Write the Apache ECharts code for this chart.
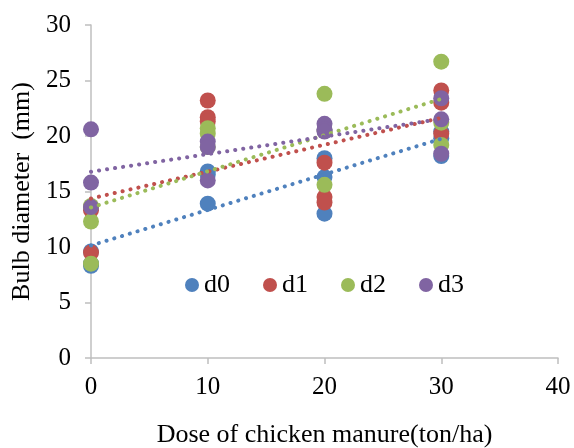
<!DOCTYPE html>
<html><head><meta charset="utf-8">
<script src="https://cdn.jsdelivr.net/npm/echarts@6/dist/echarts.min.js"></script>
<style>html,body{margin:0;padding:0;background:#fff}#c{width:574px;height:448px}</style>
</head><body><div id="c"></div>
<script>
const doses = [0, 10, 20, 30];
const seriesNames = ['d0', 'd1', 'd2', 'd3'];
const colors = ['#4f81bd', '#c0504d', '#9bbb59', '#8064a2'];
// replicate values per dose (rows follow doses)
const d0 = [[8.3, 9.6, 8.5], [16.8, 13.9, 16.5], [18.0, 16.3, 13.0], [18.2, 19.8, 20.4]];
const d1 = [[13.3, 9.5, 13.6], [23.2, 21.7, 21.3], [17.6, 14.5, 14.0], [24.1, 23.0, 20.2]];
const d2 = [[12.3, 8.5, 13.7], [20.7, 20.2, 19.0], [23.8, 15.6, 20.5], [26.7, 21.2, 19.2]];
const d3 = [[20.6, 15.8, 13.6], [19.5, 19.0, 16.0], [21.1, 20.6, 20.4], [23.4, 21.5, 18.4]];
const yTicks = [0, 5, 10, 15, 20, 25, 30];
const xTicks = [0, 10, 20, 30, 40];

const all = [d0, d1, d2, d3];
function pts(d) { const r = []; d.forEach((row, i) => row.forEach(v => r.push([doses[i], v]))); return r; }
function fit(p) {
  const n = p.length; let sx = 0, sy = 0; p.forEach(q => { sx += q[0]; sy += q[1]; });
  const mx = sx / n, my = sy / n; let sxy = 0, sxx = 0;
  p.forEach(q => { sxy += (q[0] - mx) * (q[1] - my); sxx += (q[0] - mx) ** 2; });
  const b = sxy / sxx, a = my - b * mx; return [[0, a], [30, a + 30 * b]];
}
const series = [];
all.forEach((d, i) => {
  series.push({ name: seriesNames[i], type: 'scatter', data: pts(d), symbolSize: 16,
    itemStyle: { color: colors[i], opacity: 1 }, z: 2 });
});
all.forEach((d, i) => {
  series.push({ name: seriesNames[i] + ' trend', type: 'line', data: fit(pts(d)), showSymbol: false,
    lineStyle: { color: colors[i], width: 4, type: [0.1, 8], cap: 'round' }, z: 3, silent: true });
});
const font = 'Liberation Serif';
const chart = echarts.init(document.getElementById('c'), null, { renderer: 'canvas' });
chart.setOption({
  animation: false,
  backgroundColor: '#fff',
  grid: { left: 91, right: 16, top: 25, bottom: 90, containLabel: false, outerBoundsMode: 'none' },
  legend: { data: seriesNames, left: 180, top: 267, icon: 'circle', itemWidth: 14, itemHeight: 14, itemGap: 33,
    textStyle: { fontFamily: font, fontSize: 26, color: '#000' } },
  xAxis: { type: 'value', min: 0, max: 40, interval: 10,
    name: 'Dose of chicken manure(ton/ha)', nameLocation: 'middle', nameGap: 64,
    nameTextStyle: { fontFamily: font, fontSize: 26, color: '#000' },
    axisLine: { lineStyle: { color: '#bfbfbf', width: 1.5 } },
    axisTick: { show: true, length: 6, lineStyle: { color: '#bfbfbf', width: 1.5 } },
    axisLabel: { fontFamily: font, fontSize: 25, color: '#000', margin: 17 },
    splitLine: { show: false } },
  yAxis: { type: 'value', min: 0, max: 30, interval: 5,
    name: 'Bulb diameter  (mm)', nameLocation: 'middle', nameGap: 54,
    nameTextStyle: { fontFamily: font, fontSize: 26, color: '#000' },
    axisLine: { show: true, lineStyle: { color: '#bfbfbf', width: 1.5 } },
    axisTick: { show: true, length: 6, lineStyle: { color: '#bfbfbf', width: 1.5 } },
    axisLabel: { fontFamily: font, fontSize: 25, color: '#000', margin: 20 },
    splitLine: { show: false } },
  series: series
});
</script></body></html>
